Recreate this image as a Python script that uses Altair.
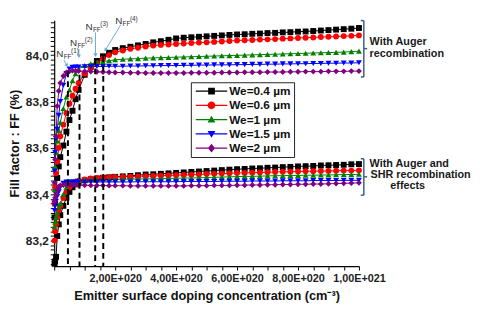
import altair as alt
import pandas as pd
import numpy as np

FONT = "Liberation Sans"

# Emitter surface doping concentration (units of 1e20 cm^-3)
DOPING = [0.01, 0.03, 0.06, 0.1, 0.15, 0.2, 0.3, 0.4, 0.5, 0.6, 0.7, 0.8, 1.0, 1.2, 1.4, 1.6, 1.8,
          2.0, 2.25, 2.5, 2.75, 3.0, 3.25, 3.5, 3.75,
          4.0, 4.25, 4.5, 4.75, 5.0, 5.25, 5.5, 5.75,
          6.0, 6.25, 6.5, 6.75, 7.0, 7.25, 7.5, 7.75,
          8.0, 8.25, 8.5, 8.75, 9.0, 9.25, 9.5, 9.75, 10.0]

SERIES = ["We=0.4 µm", "We=0.6 µm", "We=1 µm", "We=1.5 µm", "We=2 µm"]
COLORS = ["#000000", "#ff0000", "#008000", "#0000ff", "#800080"]
SHAPES = ["square", "circle", "triangle-up", "triangle-down", "diamond"]

# With Auger recombination
FF_AUGER_04 = [83.30, 83.36, 83.42, 83.47, 83.52, 83.56, 83.61, 83.67, 83.72, 83.76, 83.81, 83.85, 83.915, 83.95, 83.975, 83.995, 84.01,
               84.022, 84.030, 84.036, 84.042, 84.048, 84.055, 84.060, 84.066,
               84.072, 84.075, 84.077, 84.079, 84.081, 84.083, 84.085, 84.087,
               84.089, 84.090, 84.092, 84.093, 84.095, 84.096, 84.098, 84.099,
               84.101, 84.102, 84.104, 84.106, 84.108, 84.110, 84.112, 84.114, 84.117]
FF_AUGER_06 = [83.36, 83.43, 83.49, 83.54, 83.60, 83.65, 83.70, 83.75, 83.79, 83.825, 83.855, 83.88, 83.92, 83.945, 83.965, 83.985, 84.0,
               84.012, 84.020, 84.027, 84.032, 84.037, 84.041, 84.044, 84.046,
               84.048, 84.050, 84.052, 84.054, 84.055, 84.057, 84.059, 84.061,
               84.063, 84.064, 84.065, 84.067, 84.068, 84.069, 84.071, 84.072,
               84.074, 84.075, 84.076, 84.078, 84.079, 84.080, 84.082, 84.083, 84.085]
FF_AUGER_10 = [83.42, 83.52, 83.58, 83.63, 83.675, 83.71, 83.77, 83.82, 83.85, 83.89, 83.92, 83.94, 83.955, 83.963, 83.968, 83.972, 83.976,
               83.980, 83.982, 83.984, 83.985, 83.987, 83.988, 83.989, 83.990,
               83.991, 83.992, 83.993, 83.994, 83.995, 83.996, 83.997, 83.998,
               83.999, 84.000, 84.001, 84.002, 84.003, 84.004, 84.005, 84.006,
               84.007, 84.008, 84.009, 84.010, 84.011, 84.012, 84.013, 84.015, 84.017]
FF_AUGER_15 = [83.50, 83.58, 83.64, 83.68, 83.74, 83.80, 83.87, 83.92, 83.94, 83.947, 83.948, 83.949, 83.950, 83.950, 83.951, 83.951, 83.952,
               83.952, 83.952, 83.953, 83.953, 83.954, 83.954, 83.955, 83.955,
               83.955, 83.956, 83.956, 83.957, 83.957, 83.958, 83.958, 83.958,
               83.959, 83.959, 83.960, 83.960, 83.961, 83.961, 83.962, 83.962,
               83.963, 83.963, 83.964, 83.964, 83.965, 83.965, 83.966, 83.966, 83.967]
FF_AUGER_20 = [83.45, 83.55, 83.65, 83.78, 83.845, 83.88, 83.91, 83.925, 83.930, 83.933, 83.932, 83.931, 83.930, 83.929, 83.928, 83.927, 83.926,
               83.925, 83.925, 83.924, 83.924, 83.923, 83.923, 83.923, 83.923,
               83.923, 83.923, 83.924, 83.924, 83.924, 83.924, 83.925, 83.925,
               83.925, 83.926, 83.926, 83.926, 83.927, 83.927, 83.927, 83.928,
               83.928, 83.929, 83.929, 83.929, 83.930, 83.930, 83.930, 83.931, 83.931]

# With Auger and SRH recombination effects
FF_SRH_04 = [83.10, 83.11, 83.13, 83.22, 83.27, 83.31, 83.35, 83.385, 83.41, 83.43, 83.443, 83.452, 83.460, 83.465, 83.468, 83.471, 83.473,
             83.475, 83.477, 83.479, 83.482, 83.485, 83.486, 83.488, 83.490,
             83.492, 83.494, 83.496, 83.498, 83.500, 83.502, 83.504, 83.506,
             83.508, 83.509, 83.511, 83.512, 83.514, 83.515, 83.517, 83.518,
             83.520, 83.521, 83.522, 83.524, 83.525, 83.526, 83.527, 83.529, 83.530]
FF_SRH_06 = [83.20, 83.24, 83.27, 83.30, 83.33, 83.35, 83.385, 83.41, 83.43, 83.445, 83.453, 83.458, 83.464, 83.468, 83.470, 83.472, 83.473,
             83.474, 83.475, 83.476, 83.477, 83.478, 83.479, 83.480, 83.481,
             83.482, 83.483, 83.484, 83.485, 83.487, 83.488, 83.489, 83.490,
             83.492, 83.492, 83.493, 83.494, 83.495, 83.496, 83.497, 83.497,
             83.498, 83.499, 83.499, 83.500, 83.500, 83.501, 83.502, 83.502, 83.503]
FF_SRH_10 = [83.26, 83.28, 83.30, 83.32, 83.345, 83.36, 83.40, 83.43, 83.447, 83.455, 83.459, 83.461, 83.462, 83.463, 83.463, 83.464, 83.464,
             83.464, 83.465, 83.465, 83.466, 83.466, 83.467, 83.467, 83.468,
             83.469, 83.470, 83.470, 83.471, 83.472, 83.473, 83.474, 83.475,
             83.476, 83.477, 83.477, 83.478, 83.479, 83.480, 83.480, 83.481,
             83.481, 83.482, 83.482, 83.483, 83.483, 83.484, 83.485, 83.485, 83.486]
FF_SRH_15 = [83.33, 83.35, 83.37, 83.39, 83.41, 83.43, 83.447, 83.452, 83.453, 83.453, 83.453, 83.453, 83.453, 83.453, 83.453, 83.453, 83.453,
             83.453, 83.453, 83.453, 83.454, 83.454, 83.454, 83.454, 83.454,
             83.454, 83.455, 83.455, 83.455, 83.455, 83.455, 83.456, 83.456,
             83.456, 83.456, 83.457, 83.457, 83.457, 83.457, 83.458, 83.458,
             83.458, 83.458, 83.459, 83.459, 83.459, 83.459, 83.460, 83.460, 83.460]
FF_SRH_20 = [83.37, 83.385, 83.40, 83.42, 83.433, 83.438, 83.440, 83.441, 83.441, 83.440, 83.440, 83.439, 83.439, 83.438, 83.438, 83.438, 83.437,
             83.437, 83.437, 83.436, 83.436, 83.436, 83.436, 83.436, 83.436,
             83.436, 83.436, 83.437, 83.437, 83.437, 83.438, 83.438, 83.438,
             83.439, 83.439, 83.440, 83.440, 83.441, 83.441, 83.442, 83.442,
             83.443, 83.443, 83.444, 83.444, 83.445, 83.446, 83.447, 83.448, 83.449]

AUGER = [FF_AUGER_04, FF_AUGER_06, FF_AUGER_10, FF_AUGER_15, FF_AUGER_20]
SRH = [FF_SRH_04, FF_SRH_06, FF_SRH_10, FF_SRH_15, FF_SRH_20]

# N_FF markers (dashed lines)
NFF_X = [0.45, 0.83, 1.345, 1.61]
NFF_TOP = [83.93, 83.915, 83.985, 83.995]
NFF_BOTTOM = [83.09, 83.09, 83.09, 83.09]

# N_FF labels
LBL_X = [0.07, 0.52, 1.03, 2.0]
LBL_Y = [84.004, 84.051, 84.123, 84.145]
LBL_SUP = ["(1)", "(2)", "(3)", "(4)"]

# arrows
ARR_X1 = [0.32, 0.81, 1.355, 2.19]
ARR_Y1 = [83.979, 84.026, 84.098, 84.132]
ARR_X2 = [0.42, 0.81, 1.355, 1.68]
ARR_Y2 = [83.955, 83.995, 84.0, 84.022]
ARR_ANGLE = [329, 0, 0, 33]

# brackets
BR_X = [10.16, 10.16]
BR_TOP = [84.149, 83.553]
BR_BOT = [83.906, 83.396]
HOOK_X1 = [10.06, 10.06, 10.16, 10.06, 10.06, 10.16]
HOOK_X2 = [10.16, 10.16, 10.27, 10.16, 10.16, 10.27]
HOOK_Y = [84.149, 83.906, 84.028, 83.553, 83.396, 83.475]

# right-hand texts
RT_TEXT = ["With Auger", "recombination", "With Auger and", "SHR recombination"]
RT_X = [10.35, 10.35, 10.35, 10.38]
RT_Y = [84.055, 84.004, 83.532, 83.481]
RT2_TEXT = ["effects"]
RT2_X = [11.6]
RT2_Y = [83.434]

rows = []
for i, name in enumerate(SERIES):
    for regime, vals in (("Auger", AUGER[i]), ("SRH", SRH[i])):
        for n, ff in zip(DOPING, vals):
            rows.append({"We": name, "regime": regime, "N": n, "FF": ff})
df = pd.DataFrame(rows)

xs = alt.Scale(domain=[0, 10], nice=False, zero=False)
ys = alt.Scale(domain=[83.09, 84.15], nice=False, zero=False)
cs = alt.Scale(domain=SERIES, range=COLORS)

xticks = [round(v, 2) for v in np.arange(0, 10.001, 0.5)]
yticks = [round(v, 2) for v in np.arange(83.1, 84.151, 0.02)]

X_TITLE = "Emitter surface doping concentration (cm⁻³)"
Y_TITLE = "Fill factor : FF (%)"

x_major = "datum.value > 0 && datum.value % 2 == 0"
x_axis = alt.Axis(
    values=xticks,
    labelExpr=f"{x_major} ? (datum.value == 10 ? '1,00E+021' : replace(format(datum.value, '.2f'), '.', ',') + 'E+020') : ''",
    tickSize=4,
    labelFontSize=11, titleFontSize=13, labelPadding=3, titlePadding=6,
    labelOverlap=False, labelFlush=False,
)
y_major = "abs(datum.value*5 - round(datum.value*5)) < 0.01"
y_axis = alt.Axis(
    values=yticks,
    labelExpr=f"{y_major} && datum.value > 83.15 && datum.value < 84.1 ? replace(format(datum.value, '.1f'), '.', ',') : ''",
    tickSize=4,
    labelFontSize=12, titleFontSize=13, labelPadding=2, titlePadding=4,
    labelOverlap=False, labelFlush=False,
)


def X(field):
    return alt.X(field, scale=xs, axis=x_axis, title=X_TITLE)


def Y(field):
    return alt.Y(field, scale=ys, axis=y_axis, title=Y_TITLE)


LINE = "M-4,-0.13H4V0.13H-4Z "
PATHS = [
    LINE + "M-0.85,-0.85H0.85V0.85H-0.85Z",
    LINE + "M-1,0A1,1,0,1,1,1,0A1,1,0,1,1,-1,0Z",
    LINE + "M0,-1L1,0.75L-1,0.75Z",
    LINE + "M0,1L-1,-0.75L1,-0.75Z",
    LINE + "M0,-1.1L0.9,0L0,1.1L-0.9,0Z",
]
paths_js = "[" + ",".join("'" + p + "'" for p in PATHS) + "]"

legend = alt.Legend(
    title=None, orient="none", legendX=139, legendY=63,
    fillColor="white", strokeColor="#222", padding=3, rowPadding=2.5,
    labelFont=FONT, labelFontSize=12, labelFontWeight="bold", labelColor="#111",
    symbolSize=64, symbolType=alt.ExprRef(expr=f"{paths_js}[datum.index]"),
    symbolOffset=12, labelOffset=12, cornerRadius=0,
)

line_layers = []
point_layers = []
for name, col, shp in zip(SERIES, COLORS, SHAPES):
    sub = alt.Chart(df).transform_filter(alt.datum.We == name)
    line_layers.append(
        sub.mark_line(strokeWidth=1, color=col).encode(x=X("N:Q"), y=Y("FF:Q"), detail="regime:N")
    )
    point_layers.append(
        sub.mark_point(filled=True, size=36, opacity=1, shape=shp, color=col).encode(x=X("N:Q"), y=Y("FF:Q"))
    )

legend_layer = alt.Chart(df).transform_filter("false").mark_point(filled=True, opacity=1).encode(
    x=X("N:Q"), y=Y("FF:Q"), color=alt.Color("We:N", scale=cs, legend=legend))

dash_df = pd.DataFrame({"N": NFF_X, "FF": NFF_TOP, "FF2": NFF_BOTTOM})
dashes = alt.Chart(dash_df).mark_rule(color="black", strokeWidth=2, strokeDash=[6, 4]).encode(
    x=X("N:Q"), y=Y("FF:Q"), y2="FF2:Q",
)

lbl_df = pd.DataFrame({"N": LBL_X, "FF": LBL_Y, "sup": LBL_SUP})
base_lbl = alt.Chart(lbl_df).encode(x=X("N:Q"), y=Y("FF:Q"))
lbl_n = base_lbl.mark_text(align="left", baseline="middle", fontSize=10, font=FONT, color="#333").encode(text=alt.value("N"))
lbl_ff = base_lbl.mark_text(align="left", baseline="middle", fontSize=6.5, font=FONT, color="#333", dx=7.5, dy=3).encode(text=alt.value("FF"))
lbl_sup = base_lbl.mark_text(align="left", baseline="middle", fontSize=6.5, font=FONT, color="#333", dx=15, dy=-3).encode(text="sup:N")

arr_df = pd.DataFrame({"N": ARR_X1, "FF": ARR_Y1, "N2": ARR_X2, "FF2": ARR_Y2, "ang": ARR_ANGLE})
arr_lines = alt.Chart(arr_df).mark_rule(color="#6fa8dc", strokeWidth=1).encode(
    x=X("N:Q"), y=Y("FF:Q"), x2="N2:Q", y2="FF2:Q")
arr_heads = alt.Chart(arr_df).mark_point(shape="triangle-down", filled=True, size=18, color="#6fa8dc", opacity=1).encode(
    x=X("N2:Q"), y=Y("FF2:Q"), angle=alt.Angle("ang:Q", scale=None))

br_df = pd.DataFrame({"N": BR_X, "FF": BR_TOP, "FF2": BR_BOT})
br = alt.Chart(br_df).mark_rule(color="#3a5f85", strokeWidth=1.5).encode(
    x=X("N:Q"), y=Y("FF:Q"), y2="FF2:Q")
hook_df = pd.DataFrame({"N": HOOK_X1, "N2": HOOK_X2, "FF": HOOK_Y})
hooks = alt.Chart(hook_df).mark_rule(color="#3a5f85", strokeWidth=1.5).encode(
    x=X("N:Q"), x2="N2:Q", y=Y("FF:Q"))

rt_df = pd.DataFrame({"N": RT_X, "FF": RT_Y, "t": RT_TEXT})
rt = alt.Chart(rt_df).mark_text(align="left", baseline="middle", fontSize=11, fontWeight="bold", font=FONT, color="#1a1a1a").encode(
    x=X("N:Q"), y=Y("FF:Q"), text="t:N")
rt2_df = pd.DataFrame({"N": RT2_X, "FF": RT2_Y, "t": RT2_TEXT})
rt2 = alt.Chart(rt2_df).mark_text(align="center", baseline="middle", fontSize=11, fontWeight="bold", font=FONT, color="#1a1a1a").encode(
    x=X("N:Q"), y=Y("FF:Q"), text="t:N")

chart = alt.layer(
    *line_layers, *point_layers, legend_layer, dashes, arr_lines, arr_heads,
    lbl_n, lbl_ff, lbl_sup, br, hooks, rt, rt2
).properties(
    width=310, height=250,
    padding={"left": 47, "top": 10, "right": 115, "bottom": 36},
    autosize="none", background="white",
).configure_view(stroke=None).configure_axis(
    grid=False, domainColor="black", tickColor="black", domainWidth=1.2,
    labelFont=FONT, titleFont=FONT, labelFontWeight="bold", titleFontWeight="bold",
    labelColor="#222", titleColor="#111",
)

chart.save("out.html", embed_options={"renderer": "svg", "actions": False})
